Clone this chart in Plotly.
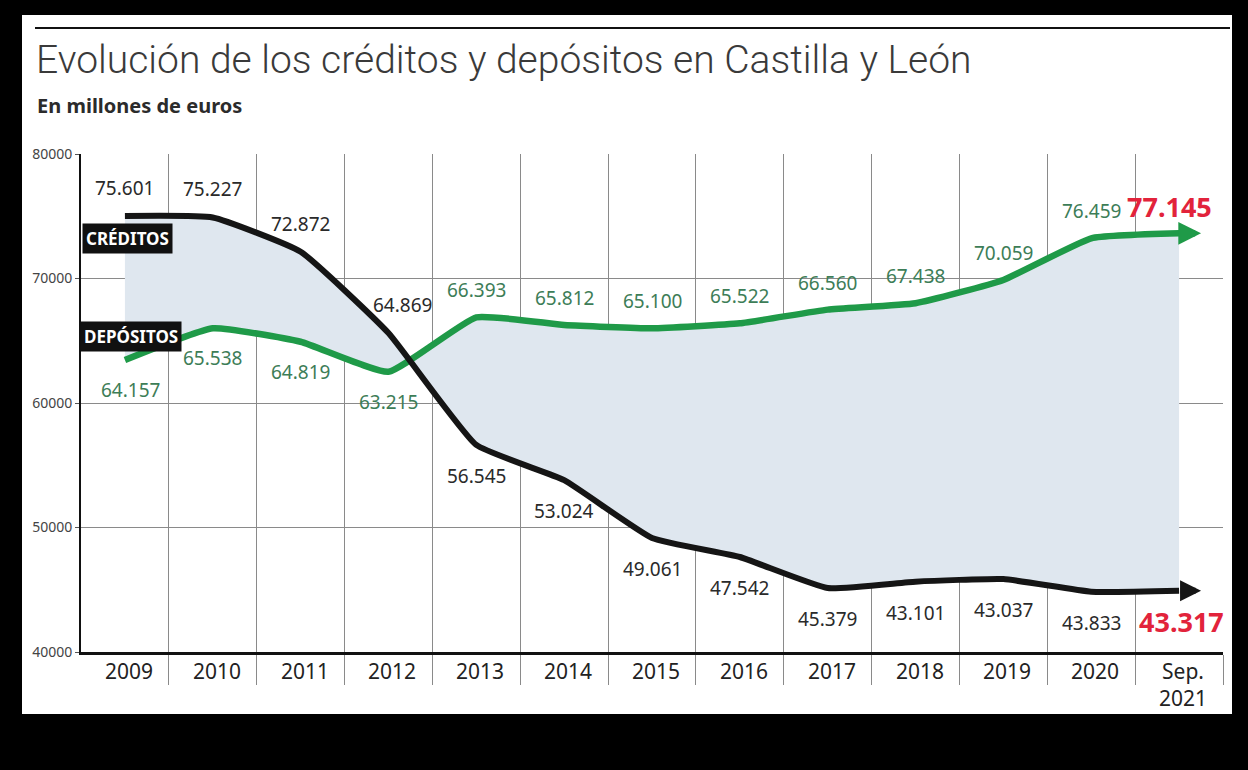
import plotly.graph_objects as go

# ---- data ----
categories = ["2009", "2010", "2011", "2012", "2013", "2014", "2015", "2016",
              "2017", "2018", "2019", "2020", "Sep.<br>2021"]
# plotted line levels (millones de euros)
creditos = [75020, 74900, 72150, 65620, 56630, 53800, 49160, 47630,
            45140, 45650, 45860, 44840, 44920]
depositos = [63450, 66000, 64920, 62510, 66880, 66270, 66000, 66400,
             67500, 68010, 69880, 73230, 73630]
# printed value labels
creditos_labels = ["75.601", "75.227", "72.872", "64.869", "56.545", "53.024",
                   "49.061", "47.542", "45.379", "43.101", "43.037", "43.833",
                   "43.317"]
depositos_labels = ["64.157", "65.538", "64.819", "63.215", "66.393", "65.812",
                    "65.100", "65.522", "66.560", "67.438", "70.059", "76.459",
                    "77.145"]
creditos_label_above = [True, True, True, True] + [False] * 9
depositos_label_above = [False, False, False, False] + [True] * 9
y_ticks = [40000, 50000, 60000, 70000, 80000]

# ---- styles ----
W, H = 1248, 770
L, R, T, B = 81, 25, 154, 118
PW, PH = W - L - R, H - T - B
GREEN = "#1f9a48"
GREEN_TXT = "#3d7d57"
BLACK = "#151515"
RED = "#e2233b"
FILL = "#dfe7ef"
FONT = "Noto Sans"

n = len(categories)
xs = list(range(n))


def px_x(p):
    return (p - L) / PW


def px_y(p):
    return (H - B - p) / PH


fig = go.Figure()
# fill between the two series
fig.add_trace(go.Scatter(x=xs, y=creditos, mode="lines",
                         line=dict(width=0, shape="spline", smoothing=0.4),
                         hoverinfo="skip", showlegend=False))
fig.add_trace(go.Scatter(x=xs, y=depositos, mode="lines",
                         line=dict(width=0, shape="spline", smoothing=0.4),
                         fill="tonexty", fillcolor=FILL,
                         hoverinfo="skip", showlegend=False))
# visible lines
fig.add_trace(go.Scatter(x=xs, y=depositos, mode="lines", name="Depósitos",
                         line=dict(width=6.5, color=GREEN, shape="spline", smoothing=0.4),
                         showlegend=False))
fig.add_trace(go.Scatter(x=xs, y=creditos, mode="lines", name="Créditos",
                         line=dict(width=6, color=BLACK, shape="spline", smoothing=0.4),
                         showlegend=False))

ann = []
# arrows at the end of each line
for series, col, w in ((creditos, BLACK, 6), (depositos, GREEN, 6.5)):
    ann.append(dict(x=xs[-1] + 0.25, y=series[-1], ax=xs[-1], ay=series[-1],
                    xref="x", yref="y", axref="x", ayref="y", text="",
                    showarrow=True, arrowhead=2, arrowsize=0.7,
                    arrowwidth=w, arrowcolor=col))

# value labels (positive yshift moves up)
for i in xs:
    last = i == n - 1
    up = creditos_label_above[i]
    ann.append(dict(x=i, y=creditos[i], xref="x", yref="y",
                    text=("<b>%s</b>" % creditos_labels[i]) if last else creditos_labels[i],
                    showarrow=False, yshift=28 if up else -31,
                    xshift=(14 if i == 3 else 0) + (2 if last else 0),
                    font=dict(family=FONT, size=27 if last else 19,
                              color=RED if last else "#2a2a2a")))
    up = depositos_label_above[i]
    ann.append(dict(x=i, y=depositos[i], xref="x", yref="y",
                    text=("<b>%s</b>" % depositos_labels[i]) if last else depositos_labels[i],
                    showarrow=False, yshift=27 if up else -30,
                    xshift=(-10 if last else 0) + (6 if i == 0 else 0),
                    font=dict(family=FONT, size=27 if last else 19,
                              color=RED if last else GREEN_TXT)))

# series tags
ann.append(dict(x=0, y=creditos[0], xref="x", yref="y", text="<b>CRÉDITOS</b>",
                showarrow=False, yshift=-22, xshift=3, bgcolor="#111111",
                borderpad=3, font=dict(family=FONT, size=17, color="white")))
ann.append(dict(x=0, y=depositos[0], xref="x", yref="y", text="<b>DEPÓSITOS</b>",
                showarrow=False, yshift=24, xshift=6, bgcolor="#111111",
                borderpad=3, font=dict(family=FONT, size=17, color="white")))

# category labels
for i, c in enumerate(categories):
    ann.append(dict(x=i, y=px_y(655), xref="x", yref="paper", text=c,
                    showarrow=False, yanchor="top", xshift=4,
                    font=dict(family=FONT, size=21, color="#222222")))

# title and subtitle
ann.append(dict(x=px_x(34), y=px_y(60), xref="paper", yref="paper",
                xanchor="left", yanchor="middle", showarrow=False,
                text="Evolución de los créditos y depósitos en Castilla y León",
                font=dict(family="Roboto", size=39, color="#3a3a3a", weight=300)))
ann.append(dict(x=px_x(35), y=px_y(105), xref="paper", yref="paper",
                xanchor="left", yanchor="middle", showarrow=False,
                text="<b>En millones de euros</b>",
                font=dict(family=FONT, size=20, color="#2b2b2b")))

shapes = [
    # white panel
    dict(type="rect", xref="paper", yref="paper", layer="below",
         x0=px_x(22), x1=px_x(1232), y0=px_y(714), y1=px_y(15),
         fillcolor="white", line=dict(width=0)),
    # top rule
    dict(type="line", xref="paper", yref="paper",
         x0=px_x(35), x1=px_x(1230), y0=px_y(28), y1=px_y(28),
         line=dict(color="#111111", width=2)),
]

fig.update_layout(
    width=W, height=H,
    margin=dict(l=L, r=R, t=T, b=B, pad=0),
    paper_bgcolor="black", plot_bgcolor="white",
    annotations=ann, shapes=shapes,
    xaxis=dict(range=[-0.5, n - 0.5], tickvals=[i + 0.5 for i in xs],
               ticktext=[""] * n, ticks="outside", ticklen=30, tickwidth=1,
               tickcolor="#8a8a8a", showgrid=True, gridcolor="#8a8a8a",
               gridwidth=1, zeroline=False, showline=True, linecolor="#111111",
               linewidth=2.5, fixedrange=True),
    yaxis=dict(range=[40000, 80000], tickvals=y_ticks,
               ticktext=[str(v) for v in y_ticks], ticks="outside", ticklen=4,
               tickcolor="#555555", showgrid=True, gridcolor="#8a8a8a",
               gridwidth=1, zeroline=False, showline=True, linecolor="#111111",
               linewidth=2, tickfont=dict(family=FONT, size=14, color="#444444"),
               fixedrange=True),
    font=dict(family=FONT),
)

fig.write_html("out.html",
               config={"displayModeBar": False},
               post_script="document.body.style.margin='0';"
                           "document.body.style.background='black';")
